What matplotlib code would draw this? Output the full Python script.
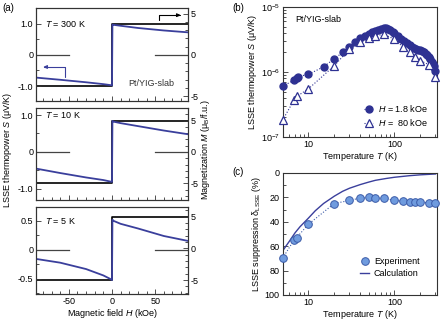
import matplotlib
matplotlib.use('Agg')
import matplotlib.pyplot as plt
from matplotlib.ticker import MultipleLocator, NullFormatter, LogLocator
from matplotlib.lines import Line2D

plt.rcParams['font.family'] = ['Liberation Sans', 'DejaVu Sans']
plt.rcParams['font.size'] = 6.5
plt.rcParams['mathtext.fontset'] = 'custom'
plt.rcParams['mathtext.rm'] = 'Liberation Sans'
plt.rcParams['mathtext.it'] = 'Liberation Sans:italic'
plt.rcParams['axes.unicode_minus'] = False

# panel (a): field sweeps, S on left axis, M on right axis
H_neg = [-88, -60, -30, -10, -2, 0]
H_pos = [0.5, 2, 10, 30, 60, 88]
S_300_neg = [-0.73, -0.80, -0.88, -0.94, -0.97, -0.98]
S_300_pos = [0.97, 0.96, 0.93, 0.86, 0.78, 0.72]
S_10_neg = [-0.45, -0.57, -0.69, -0.76, -0.80, -0.81]
S_10_pos = [0.84, 0.82, 0.78, 0.70, 0.58, 0.48]
S_5_neg = [-0.155, -0.22, -0.33, -0.44, -0.50, -0.52]
S_5_pos = [0.52, 0.50, 0.45, 0.37, 0.24, 0.155]
H_M = [-88, 0, 0, 88]
M_300 = [-3.8, -3.8, 3.75, 3.75]
M_10 = [-5.0, -5.0, 5.0, 5.0]
M_5 = [-5.0, -5.0, 5.0, 5.0]
zero_segments = [(-88, -50), (50, 88)]

# panel (b): LSSE thermopower vs temperature (units of 1e-6)
T_low = [5, 6.8, 7.3, 7.6, 10, 15, 20, 25, 30, 35, 40, 45, 50, 55, 60, 65, 70, 75,
         80, 85, 90, 95, 100, 110, 120, 130, 140, 150, 160, 170, 180, 190, 200,
         210, 220, 230, 240, 250, 260, 270, 280, 290, 300]
S_low = [0.60, 0.75, 0.80, 0.85, 0.92, 1.2, 1.6, 2.0, 2.45, 2.9, 3.3, 3.6, 3.85,
         4.1, 4.3, 4.5, 4.65, 4.75, 4.7, 4.55, 4.35, 4.15, 3.95, 3.6, 3.25, 3.0,
         2.75, 2.6, 2.45, 2.35, 2.25, 2.2, 2.15, 2.1, 2.0, 1.9, 1.8, 1.7, 1.6,
         1.45, 1.35, 1.22, 1.05]
T_high = [5, 6.8, 7.3, 10, 20, 30, 40, 50, 60, 75, 100, 125, 150, 175, 200, 250, 300]
S_high = [0.18, 0.37, 0.42, 0.55, 1.25, 2.25, 2.9, 3.3, 3.6, 3.8, 3.2, 2.45, 2.0,
          1.7, 1.5, 1.3, 0.83]

# panel (c): suppression
T_exp = [5, 6.8, 7.3, 10, 20, 30, 40, 50, 60, 75, 100, 125, 150, 175, 200, 250, 300]
delta_exp = [70, 55, 53, 42, 25, 22.5, 20.5, 20, 20.5, 20.5, 22.5, 23, 24, 24, 24, 24.5, 24.5]
T_calc = [5, 6, 7, 8, 10, 12, 15, 20, 25, 30, 40, 50, 60, 80, 100, 150, 200, 300]
delta_calc = [64, 56, 49, 44, 37, 31, 25, 19, 15, 12.5, 9.5, 7.5, 6, 4.5, 3.5, 2.2, 1.5, 0.8]

blue = '#3a3f9c'
dark = '#2e3192'
light = '#6f9bde'
spine_col = '#333333'

W, Hh = 441, 320


def rect(l, r, t, b):
    return [l / W, 1 - b / Hh, (r - l) / W, (b - t) / Hh]


def style(ax):
    for s in ax.spines.values():
        s.set_color(spine_col)
        s.set_linewidth(0.8)
    ax.tick_params(which='both', direction='in', color=spine_col, width=0.6, pad=2)
    ax.tick_params(which='major', length=3.5)
    ax.tick_params(which='minor', length=2)


fig = plt.figure(figsize=(4.41, 3.2), dpi=100)

a_rects = [rect(36, 188, 8, 101), rect(36, 188, 108, 200), rect(36, 188, 207, 294)]
panels = [
    (S_300_neg, S_300_pos, M_300, (-1.48, 1.5), (-5.6, 5.7), [-1, 0, 1], ['-1.0', '0', '1.0'], 0.5, '300 K'),
    (S_10_neg, S_10_pos, M_10, (-1.3, 1.19), (-7.65, 7.0), [-1, 0, 1], ['-1.0', '0', '1.0'], 0.5, '10 K'),
    (S_5_neg, S_5_pos, M_5, (-0.76, 0.74), (-7.2, 6.5), [-0.5, 0, 0.5], ['-0.5', '0', '0.5'], 0.25, '5 K'),
]
for i, (sn, sp, m, ylim, mlim, yt, ytl, ymin, ttl) in enumerate(panels):
    ax = fig.add_axes(a_rects[i])
    ax2 = ax.twinx()
    ax2.plot(H_M, m, color='black', lw=1.2, zorder=1)
    ax2.set_ylim(*mlim)
    ax2.set_yticks([-5, 0, 5])
    ax2.set_yticklabels(['-5', '0', '5'])
    ax2.yaxis.set_minor_locator(MultipleLocator(1))
    style(ax2)
    ax.set_zorder(ax2.get_zorder() + 1)
    ax.patch.set_visible(False)
    for x0, x1 in zero_segments:
        ax.plot([x0, x1], [0, 0], color='#444444', lw=0.9)
    ax.plot(H_neg + H_pos, sn + sp, color=blue, lw=1.3)
    ax.set_xlim(-88, 88)
    ax.set_ylim(*ylim)
    ax.set_yticks(yt)
    ax.set_yticklabels(ytl)
    ax.yaxis.set_minor_locator(MultipleLocator(ymin))
    ax.xaxis.set_major_locator(MultipleLocator(50))
    ax.xaxis.set_minor_locator(MultipleLocator(10))
    style(ax)
    ax.tick_params(axis='x', which='both', top=False)
    ax.text(-78, yt[-1], '$T$ = ' + ttl, va='center', ha='left')
    if i < 2:
        ax.set_xticklabels([])
    else:
        ax.set_xlabel('Magnetic field $H$ (kOe)', labelpad=1)
    if i == 0:
        ax.text(45, -0.92, 'Pt/YIG-slab', ha='center', va='center', color='#333333')
        ax.annotate('', xy=(-80, -0.39), xytext=(-54.6, -0.72),
                    arrowprops=dict(arrowstyle='-|>,head_length=0.35,head_width=0.15',
                                    color=blue, lw=0.8, shrinkA=0, shrinkB=0,
                                    connectionstyle='angle,angleA=90,angleB=0,rad=0'))
        ax.annotate('', xy=(80, 1.27), xytext=(54.6, 1.1),
                    arrowprops=dict(arrowstyle='-|>,head_length=0.35,head_width=0.15',
                                    color='black', lw=0.8, shrinkA=0, shrinkB=0,
                                    connectionstyle='angle,angleA=90,angleB=0,rad=0'))

fig.text(8 / W, 1 - 150 / Hh, 'LSSE thermopower $S$ (μV/K)', rotation=90, ha='center', va='center')
fig.text(205 / W, 1 - 150 / Hh, 'Magnetization $M$ (μ$_\\mathrm{B}$/f.u.)', rotation=90, ha='center', va='center')
fig.text(2 / W, 1 - 8 / Hh, '(a)', ha='left', va='center', fontsize=7)
fig.text(232 / W, 1 - 8 / Hh, '(b)', ha='left', va='center', fontsize=7)
fig.text(232 / W, 1 - 172 / Hh, '(c)', ha='left', va='center', fontsize=7)

# panel (b)
axb = fig.add_axes(rect(282.5, 436.7, 7, 137))
axb.plot(T_low, [v * 1e-6 for v in S_low], ls=':', lw=0.8, color=dark, marker='o',
         ms=5, mfc=dark, mec=dark, label='$H$ = 1.8 kOe', clip_on=False, zorder=3)
axb.plot(T_high, [v * 1e-6 for v in S_high], ls=':', lw=0.8, color=dark, marker='^',
         ms=5.5, mfc='white', mec=dark, mew=0.9, label='$H$ =  80 kOe', clip_on=False, zorder=4)
axb.set_xscale('log')
axb.set_yscale('log')
axb.set_xlim(5, 310)
axb.set_ylim(1e-7, 1e-5)
axb.set_xticks([10, 100])
axb.set_xticklabels(['10', '100'])
axb.xaxis.set_minor_locator(LogLocator(base=10, subs=range(2, 10)))
axb.xaxis.set_minor_formatter(NullFormatter())
style(axb)
axb.tick_params(which='both', top=False, right=False)
axb.set_xlabel('Temperature $T$ (K)', labelpad=1)
axb.set_ylabel('LSSE thermopower $S$ (μV/K)', labelpad=1)
axb.text(0.08, 0.9, 'Pt/YIG-slab', transform=axb.transAxes, ha='left', va='center')
axb.legend(loc='lower right', frameon=False, handlelength=1.0, handletextpad=0.5,
           labelspacing=0.3, borderaxespad=0.6)

# panel (c)
axc = fig.add_axes(rect(282.5, 436.7, 173, 295))
axc.plot(T_calc, delta_calc, color=blue, lw=1.0, label='Calculation', zorder=2)
axc.plot(T_exp, delta_exp, ls=':', lw=0.8, color='#3b5ba8', marker='o', ms=5.5,
         mfc=light, mec='#3b5ba8', mew=0.7, label='Experiment', zorder=3, clip_on=False)
axc.set_xscale('log')
axc.set_xlim(5, 310)
axc.set_ylim(100, 0)
axc.set_yticks([0, 20, 40, 60, 80, 100])
axc.yaxis.set_minor_locator(MultipleLocator(10))
axc.set_xticks([10, 100])
axc.set_xticklabels(['10', '100'])
axc.xaxis.set_minor_locator(LogLocator(base=10, subs=range(2, 10)))
axc.xaxis.set_minor_formatter(NullFormatter())
style(axc)
axc.tick_params(which='both', top=False, right=False)
axc.set_xlabel('Temperature $T$ (K)', labelpad=1)
axc.set_ylabel('LSSE suppression δ$_\\mathregular{LSSE}$ (%)', labelpad=1)
handles = [Line2D([], [], ls='none', marker='o', ms=5.5, mfc=light, mec='#3b5ba8', mew=0.7),
           Line2D([], [], color=blue, lw=1.0)]
axc.legend(handles, ['Experiment', 'Calculation'], loc='lower right', frameon=False,
           handlelength=1.0, handletextpad=0.5, labelspacing=0.3, borderaxespad=1.5)

fig.savefig('out.png', dpi=100)
